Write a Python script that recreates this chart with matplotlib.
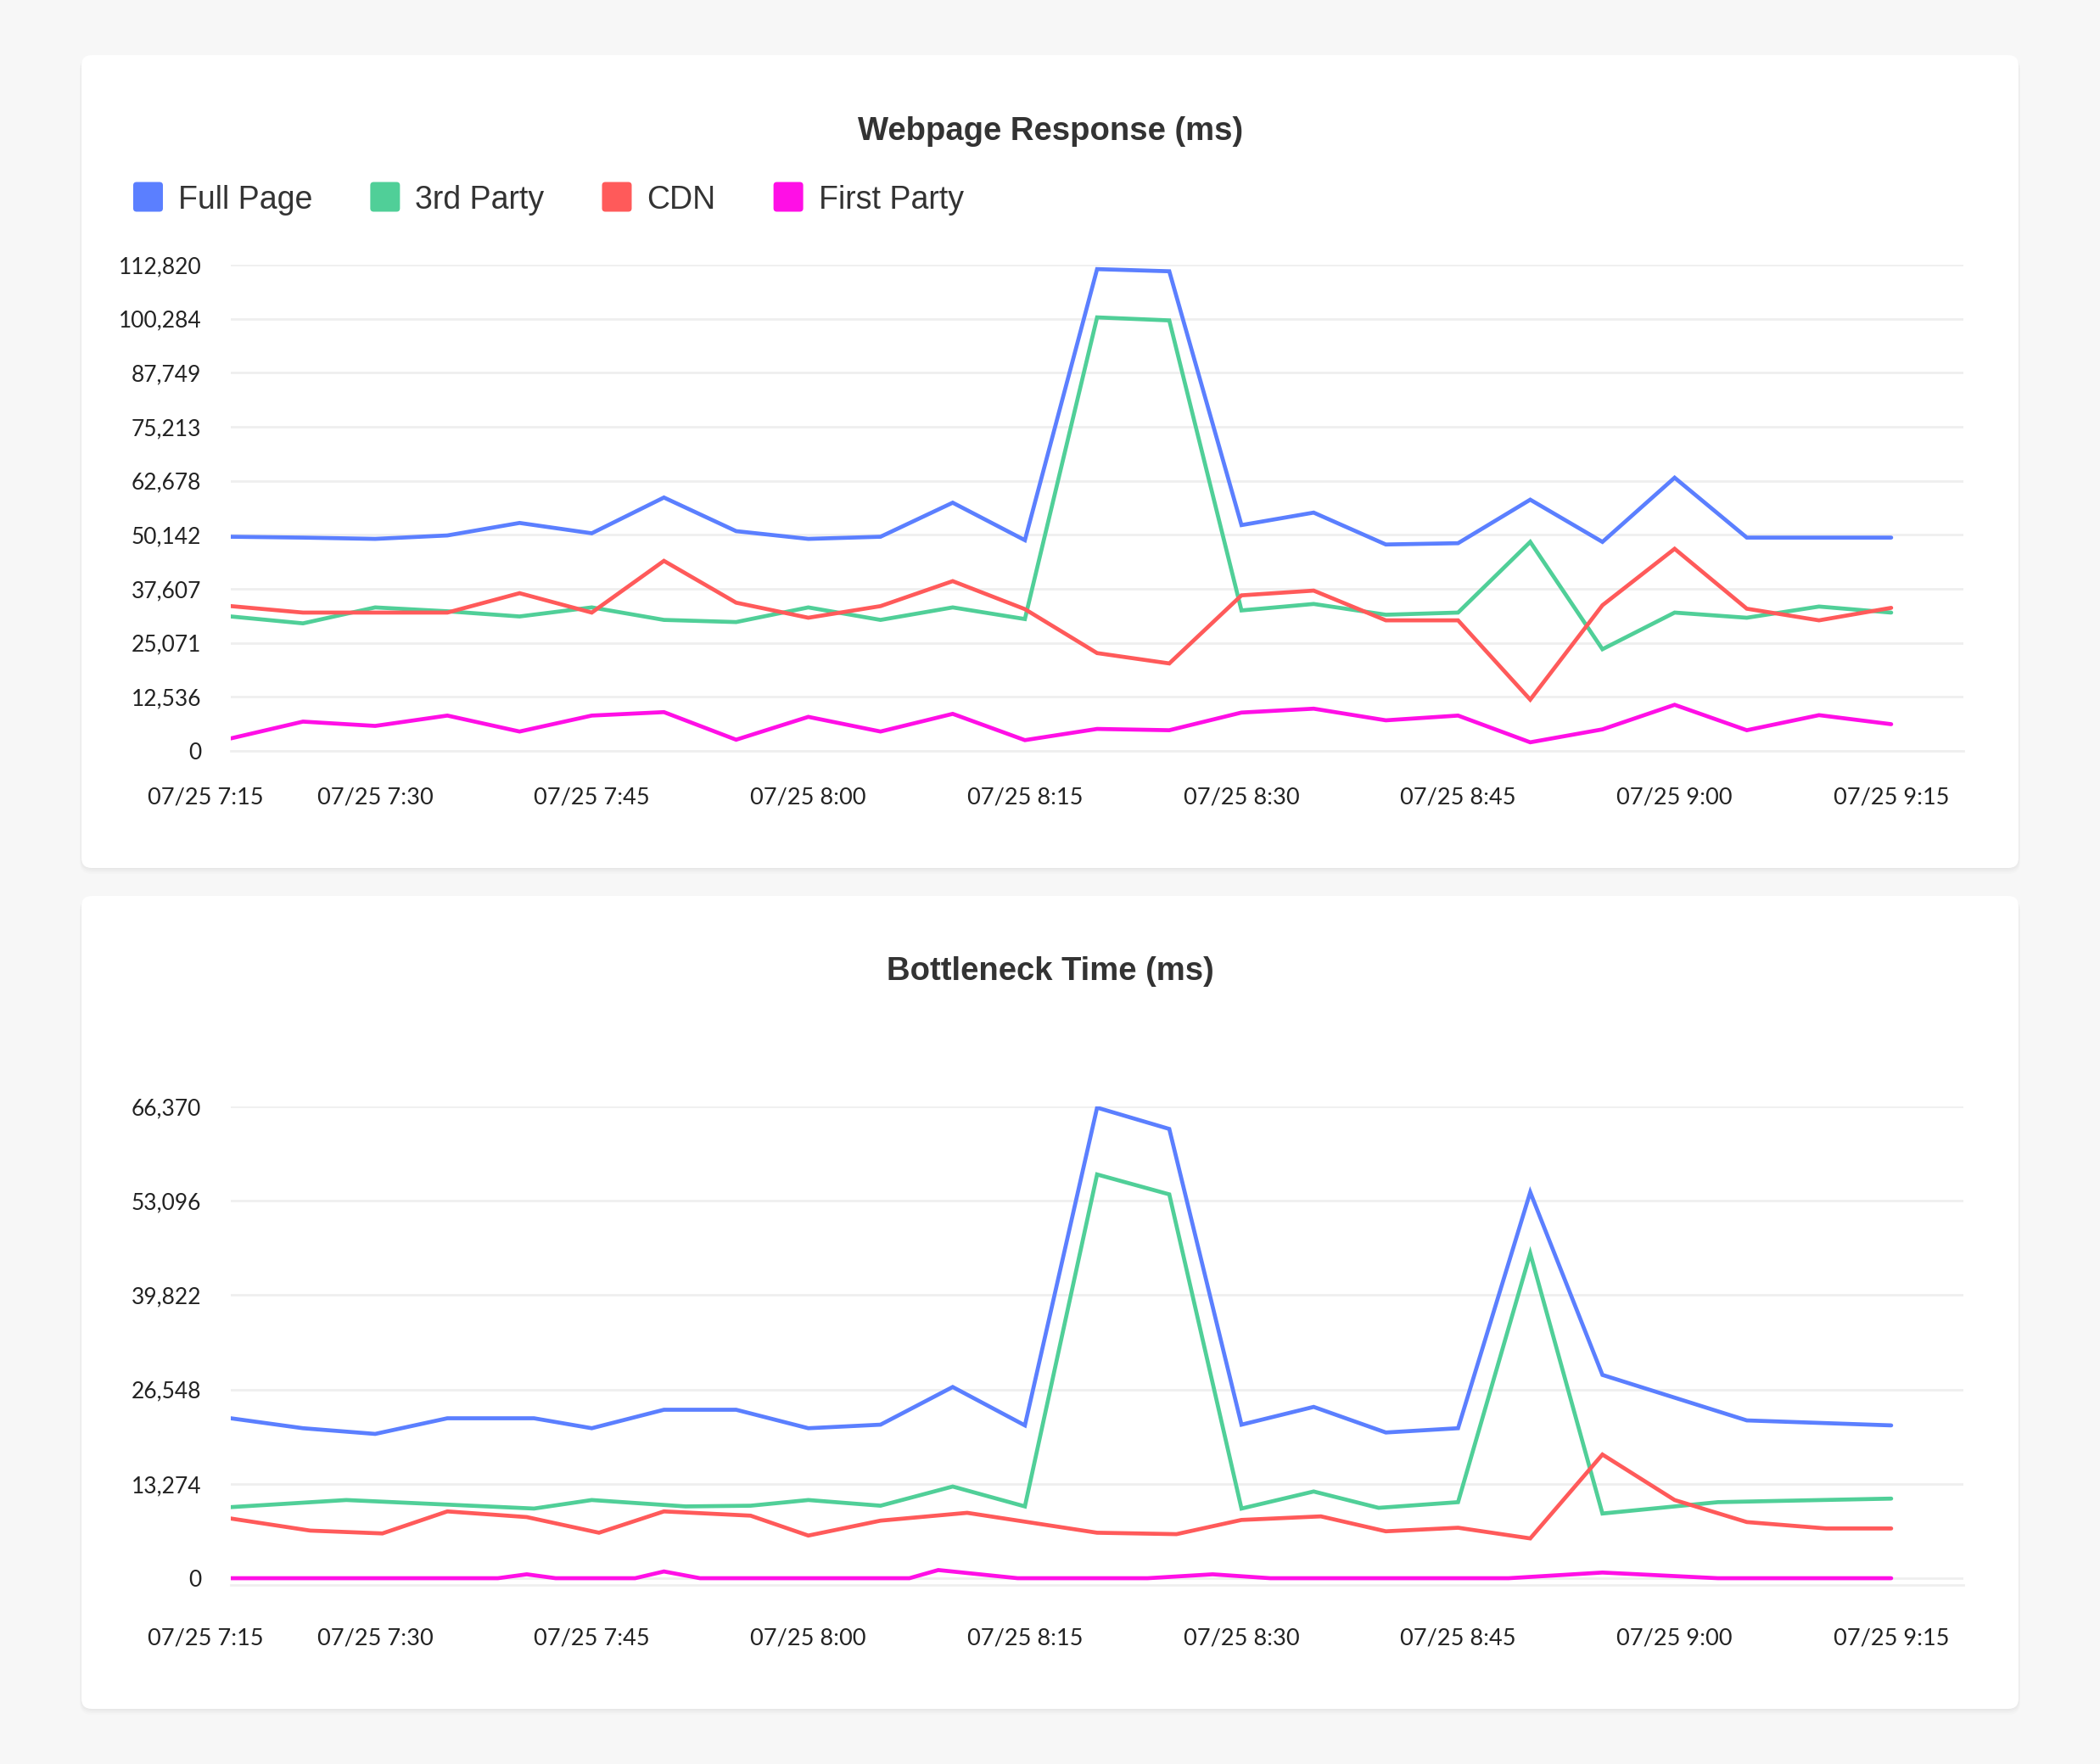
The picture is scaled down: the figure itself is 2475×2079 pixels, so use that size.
import matplotlib
matplotlib.use("Agg")
import matplotlib.pyplot as plt
import matplotlib.dates as mdates
from matplotlib.patches import FancyBboxPatch
from matplotlib.transforms import IdentityTransform
import pandas as pd

# ---------------- data ----------------
series_names = ["Full Page", "3rd Party", "CDN", "First Party"]
series_colors = ["#5b7fff", "#50cf98", "#ff5a5a", "#ff0fe6"]

top_title = "Webpage Response (ms)"
bottom_title = "Bottleneck Time (ms)"

top_times = ["07:20", "07:25", "07:30", "07:35", "07:40", "07:45", "07:50", "07:55",
             "08:00", "08:05", "08:10", "08:15", "08:20", "08:25", "08:30", "08:35",
             "08:40", "08:45", "08:50", "08:55", "09:00", "09:05", "09:10", "09:15"]
top_full_page = [49700, 49500, 49200, 50000, 52900, 50500, 58800, 51000, 49200, 49700, 57600, 48900,
                 111800, 111300, 52400, 55300, 47900, 48200, 58300, 48500, 63400, 49500, 49500, 49500]
top_3rd_party = [31200, 29600, 33300, 32400, 31200, 33300, 30400, 29900, 33300, 30400, 33300, 30600,
                 100600, 99900, 32600, 34100, 31600, 32100, 48500, 23600, 32100, 30900, 33500, 32100]
top_cdn = [33600, 32100, 32100, 32100, 36600, 32100, 44100, 34400, 30900, 33600, 39400, 32900,
           22700, 20300, 36100, 37200, 30300, 30300, 11900, 33800, 46900, 33000, 30300, 33200]
top_first_party = [2900, 6800, 5800, 8200, 4500, 8200, 9000, 2600, 7900, 4500, 8600, 2500,
                   5100, 4800, 8900, 9800, 7100, 8200, 2000, 5000, 10700, 4800, 8300, 6200]

bn_full_page_times = ["07:20", "07:25", "07:30", "07:35", "07:41", "07:45", "07:50", "07:55",
                      "08:00", "08:05", "08:10", "08:15", "08:20", "08:25", "08:30", "08:35",
                      "08:40", "08:45", "08:50", "08:55", "09:05", "09:15"]
bn_full_page = [22500, 21100, 20300, 22500, 22500, 21100, 23700, 23700,
                21100, 21600, 26900, 21500, 66200, 63200, 21600, 24100,
                20500, 21100, 54300, 28600, 22200, 21500]

bn_3rd_party_times = ["07:20", "07:28", "07:41", "07:45", "07:51:30", "07:56", "08:00", "08:05",
                      "08:10", "08:15", "08:20", "08:25", "08:30", "08:35", "08:39:30", "08:45",
                      "08:50", "08:55", "09:03", "09:15"]
bn_3rd_party = [10000, 11000, 9800, 11000, 10100, 10200, 11000, 10200,
                12900, 10100, 56800, 54000, 9800, 12200, 9900, 10700,
                45700, 9100, 10700, 11200]

bn_cdn_times = ["07:20", "07:25:30", "07:30:30", "07:35", "07:40:30", "07:45:30", "07:50", "07:56",
                "08:00", "08:05", "08:11", "08:20", "08:25:30", "08:30", "08:35:30", "08:40",
                "08:45", "08:50", "08:55", "09:00", "09:05", "09:10:30", "09:15"]
bn_cdn = [8400, 6700, 6300, 9400, 8600, 6400, 9400, 8800,
          6000, 8100, 9200, 6400, 6200, 8200, 8700, 6600,
          7100, 5600, 17400, 11000, 7900, 7000, 7000]

bn_first_party_times = ["07:20", "07:38:30", "07:40:30", "07:42:30", "07:48", "07:50", "07:52:30",
                        "08:07", "08:09", "08:14:30", "08:23:30", "08:28", "08:32", "08:48:30",
                        "08:55", "09:03", "09:15"]
bn_first_party = [0, 0, 550, 0, 0, 950, 0, 0, 1150, 0, 0, 550, 0, 0, 800, 0, 0]

x_range = ["07:20", "09:20"]
x_tick_times = ["07:30", "07:45", "08:00", "08:15", "08:30", "08:45", "09:00", "09:15"]
x_tick_labels = ["07/25 7:30", "07/25 7:45", "07/25 8:00", "07/25 8:15",
                 "07/25 8:30", "07/25 8:45", "07/25 9:00", "07/25 9:15"]
first_tick_label = "07/25 7:15"

top_yticks = [0, 12536, 25071, 37607, 50142, 62678, 75213, 87749, 100284, 112820]
bottom_yticks = [0, 13274, 26548, 39822, 53096, 66370]
bottom_ymin = -950


def tnum(lst):
    return [mdates.date2num(pd.Timestamp("2024-07-25 " + (t if t.count(":") == 2 else t + ":00")))
            for t in lst]


# ---------------- figure ----------------
W, H, DPI = 2475, 2079, 100
BG = "#f7f7f7"
TEXT = "#333333"
TICK = "#222222"
GRID = "#efefef"

fig = plt.figure(figsize=(W / DPI, H / DPI), dpi=DPI, facecolor=BG)


def card(x0, y0_top, x1, y1_bot):
    # pixel coords measured from top-left
    w = x1 - x0
    h = y1_bot - y0_top
    yb = H - y1_bot
    for i, a in enumerate([0.020, 0.018, 0.014, 0.010]):
        d = 1 + i * 2
        sh = FancyBboxPatch((x0 - d * 0.3, yb - d), w + d * 0.6, h + d * 0.5,
                            boxstyle="round,pad=0,rounding_size=14",
                            transform=IdentityTransform(), facecolor="#000000",
                            edgecolor="none", alpha=a, zorder=-11)
        fig.patches.append(sh)
    p = FancyBboxPatch((x0, yb), w, h, boxstyle="round,pad=0,rounding_size=12",
                       transform=IdentityTransform(), facecolor="white",
                       edgecolor="none", zorder=-10)
    fig.patches.append(p)


card(96, 65, 2379, 1023)
card(96, 1056, 2379, 2014)

AX_L, AX_R = 272, 2314


def make_axes(top_px, bot_px):
    return fig.add_axes([AX_L / W, 1 - bot_px / H, (AX_R - AX_L) / W, (bot_px - top_px) / H])


xtick_font = dict(family="Lato", size=19.5, color=TICK)
ytick_font = dict(family="Lato", size=19, color=TICK)


def style_axes(ax, yticks, ymin, xpad):
    ax.set_facecolor("none")
    ax.set_xlim(tnum(x_range))
    ax.set_ylim(ymin, yticks[-1])
    ax.set_yticks(yticks)
    ax.set_yticklabels([f"{v:,}" for v in yticks], fontdict=ytick_font)
    ax.set_xticks(tnum(x_tick_times))
    ax.set_xticklabels(x_tick_labels, fontdict=xtick_font)
    ax.tick_params(axis="y", length=0, pad=25)
    ax.tick_params(axis="x", length=0, pad=xpad)
    ax.grid(axis="y", color=GRID, lw=2.0, zorder=0)
    ax.set_axisbelow(True)
    for s in ["top", "right", "left"]:
        ax.spines[s].set_visible(False)
    ax.spines["bottom"].set_color(GRID)
    ax.spines["bottom"].set_linewidth(2.0)
    ax.annotate(first_tick_label, xy=(tnum(x_range)[0], 0), xycoords=("data", "axes fraction"),
                xytext=(-21.5, -xpad), textcoords="offset points", ha="center", va="top",
                annotation_clip=False,
                fontfamily=xtick_font["family"], fontsize=xtick_font["size"], color=TICK)


line_kw = dict(lw=3.4, solid_capstyle="round", solid_joinstyle="miter", zorder=3)

# top chart
ax1 = make_axes(312, 885)
style_axes(ax1, top_yticks, 0, 30.5)
tx = tnum(top_times)
for vals, c in zip([top_full_page, top_3rd_party, top_cdn, top_first_party], series_colors):
    ax1.plot(tx, vals, color=c, **line_kw)

# bottom chart
ax2 = make_axes(1304, 1868)
style_axes(ax2, bottom_yticks, bottom_ymin, 36.5)
for ts, vals, c in zip([bn_full_page_times, bn_3rd_party_times, bn_cdn_times, bn_first_party_times],
                       [bn_full_page, bn_3rd_party, bn_cdn, bn_first_party], series_colors):
    ax2.plot(tnum(ts), vals, color=c, **line_kw)

# titles
fig.text(1238 / W, 1 - 155 / H, top_title, ha="center", va="center",
         fontfamily="Liberation Sans", fontweight="bold", fontsize=27.5, color=TEXT)
fig.text(1238 / W, 1 - 1145 / H, bottom_title, ha="center", va="center",
         fontfamily="Liberation Sans", fontweight="bold", fontsize=27.5, color=TEXT)

# legend (custom, rounded squares)
renderer = fig.canvas.get_renderer()
x = 157
yc = H - 232
sq = 35
for name, c in zip(series_names, series_colors):
    box = FancyBboxPatch((x, yc - sq / 2), sq, sq, boxstyle="round,pad=0,rounding_size=4",
                         transform=IdentityTransform(), facecolor=c, edgecolor="none", zorder=5)
    fig.patches.append(box)
    t = fig.text((x + sq + 18) / W, yc / H, name, ha="left", va="center_baseline",
                 fontfamily="Liberation Sans", fontsize=27, color=TEXT)
    bb = t.get_window_extent(renderer)
    x = bb.x1 + 68

fig.savefig("out.png", dpi=DPI, facecolor=BG)
